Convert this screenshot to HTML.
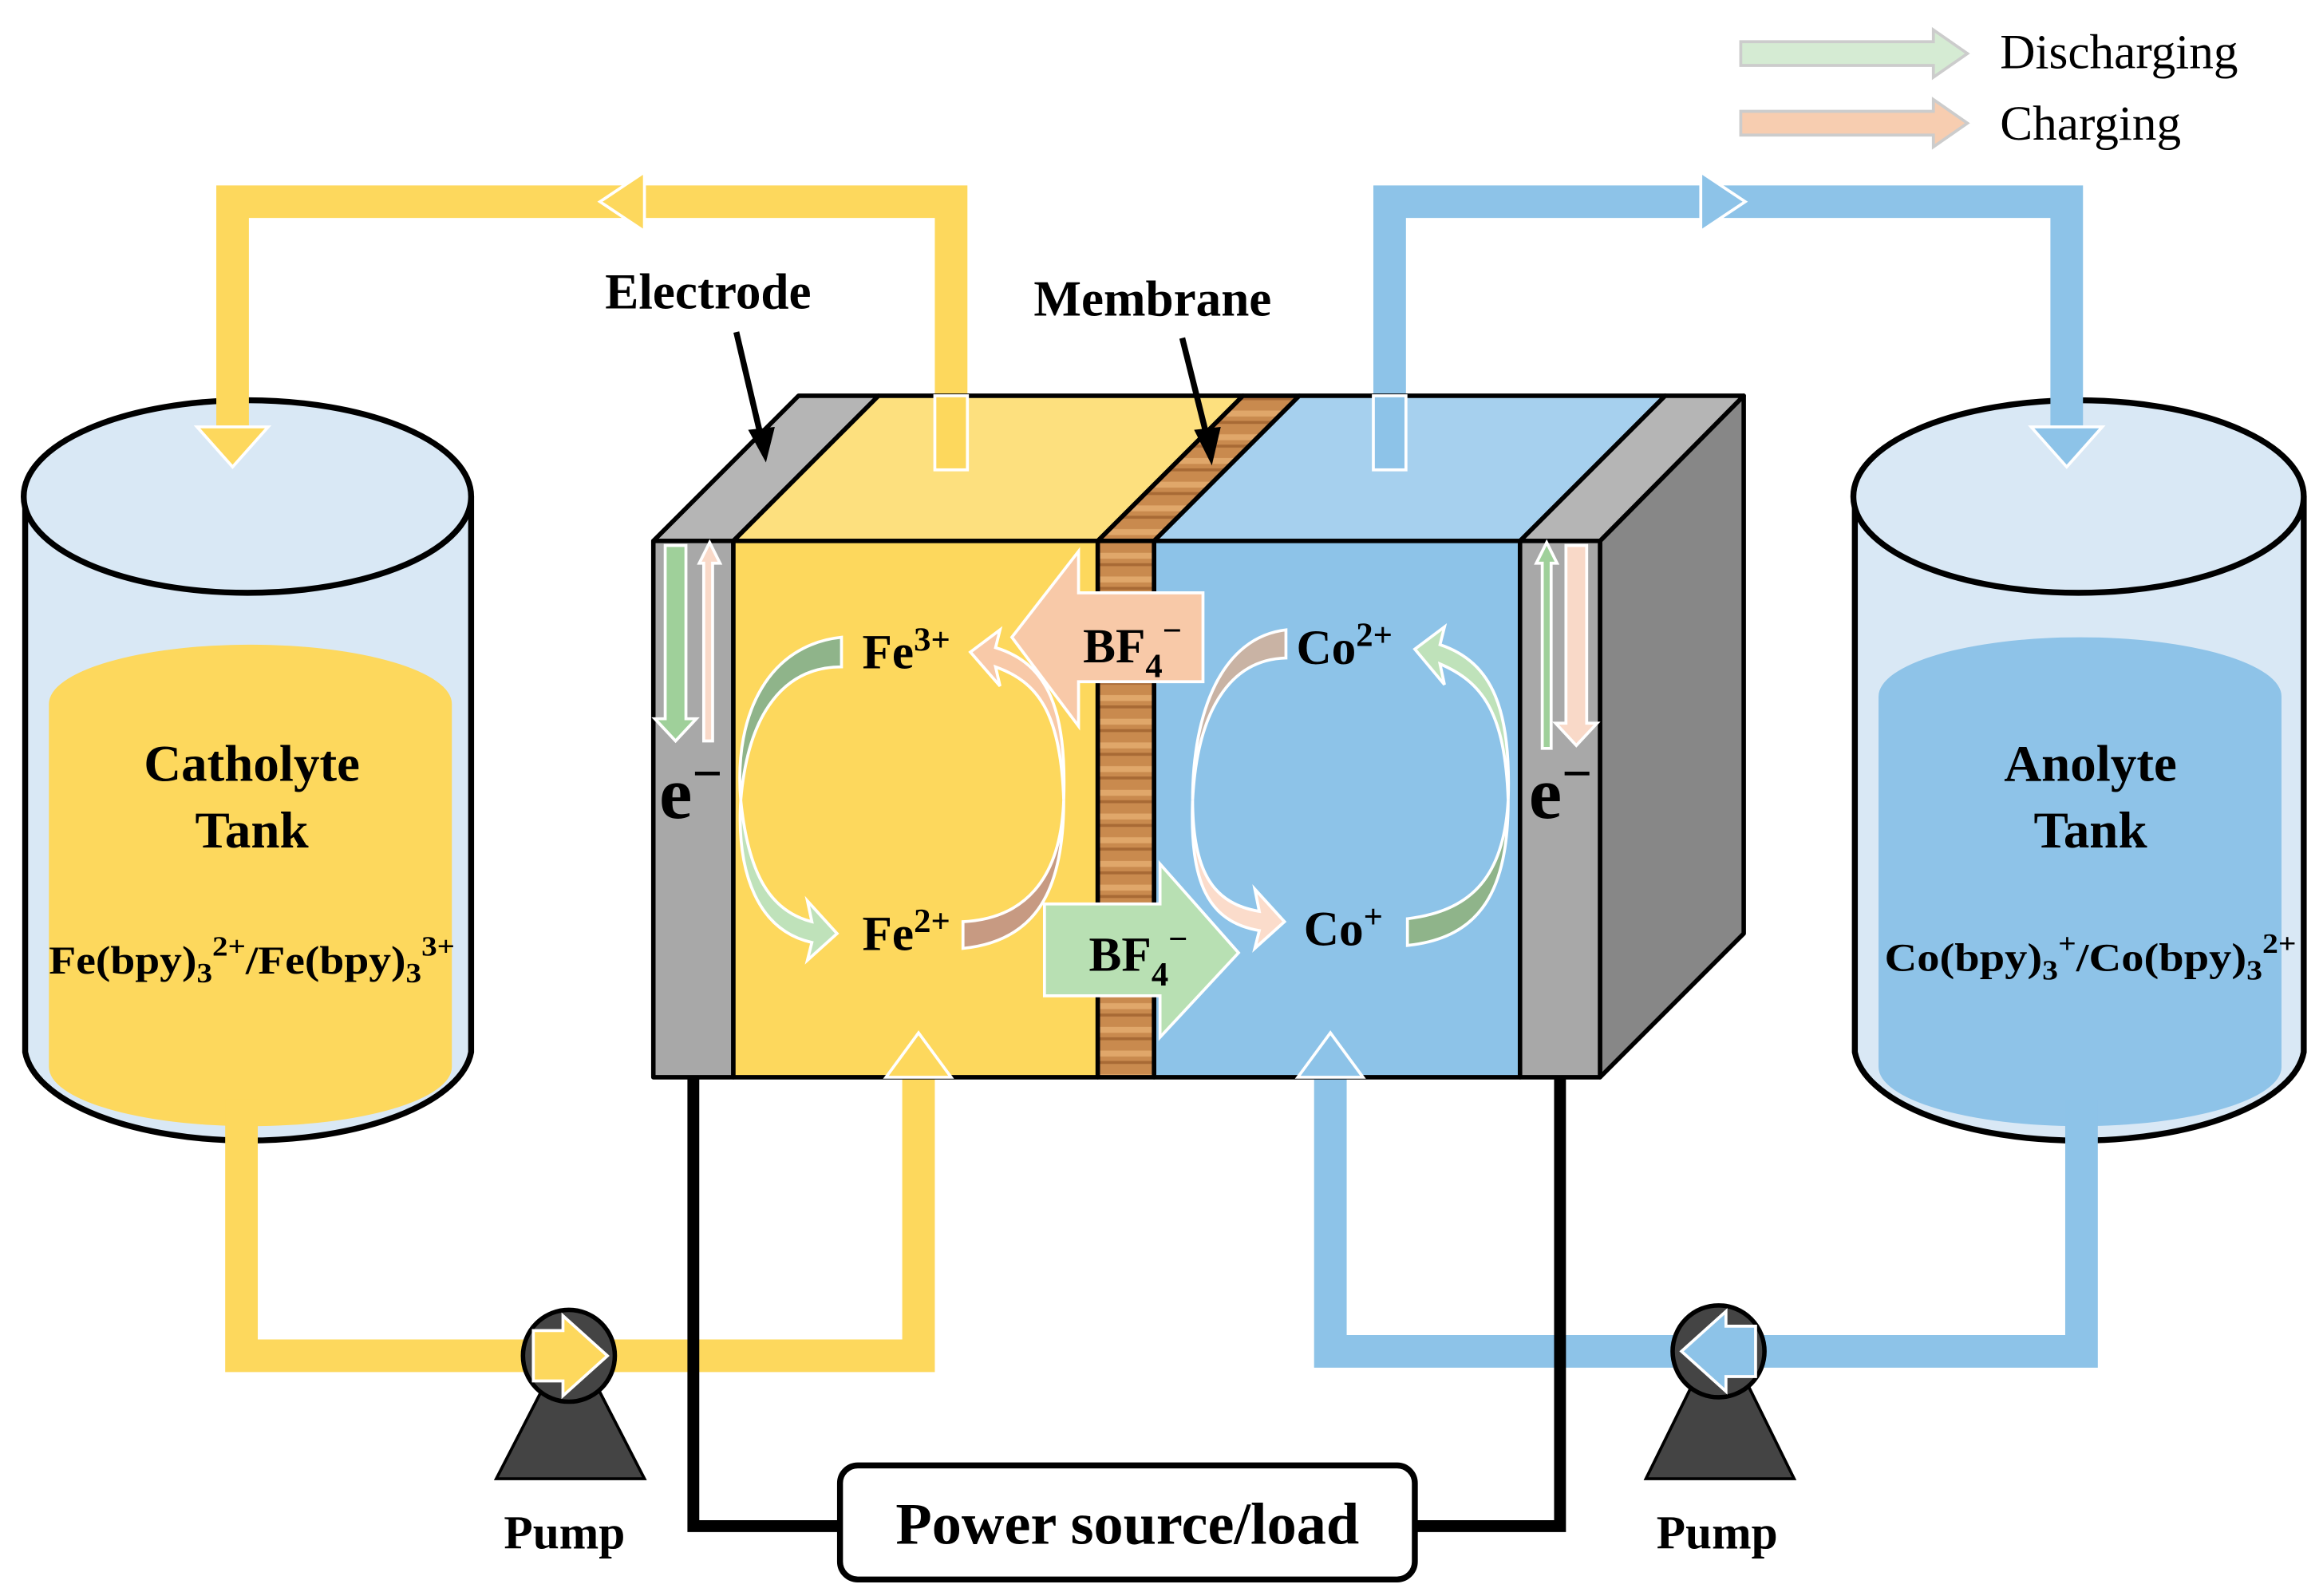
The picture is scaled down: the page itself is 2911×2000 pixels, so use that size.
<!DOCTYPE html>
<html><head><meta charset="utf-8"><style>html,body{margin:0;padding:0;background:#fff}svg{display:block}</style></head>
<body>
<svg width="2911" height="2000" viewBox="0 0 1568 1077" xmlns="http://www.w3.org/2000/svg" font-family="Liberation Serif, serif">
<defs>
<pattern id="wood" width="38" height="16" patternUnits="userSpaceOnUse">
<rect width="38" height="16" fill="#c98a4e"/><rect y="5" width="38" height="4" fill="#e0a76a"/><rect y="12" width="38" height="2" fill="#a86a35"/>
</pattern>
</defs>
<!-- legend -->
<polygon points="1175,28 1305,28 1305,20 1328,36 1305,52 1305,44 1175,44" fill="#d5ebd3" stroke="#ccc" stroke-width="2"/>
<polygon points="1175,75 1305,75 1305,67 1328,83 1305,99 1305,91 1175,91" fill="#f7cdb0" stroke="#ccc" stroke-width="2"/>
<text x="1350" y="46" font-size="33">Discharging</text>
<text x="1350" y="94" font-size="33">Charging</text>

<!-- tanks -->
<g stroke="#000" stroke-width="4">
<path d="M17,335 L17,710 A151,65 0 0 0 318,710 L318,335" fill="#d9e8f5"/>
<ellipse cx="167" cy="335" rx="151" ry="65" fill="#d9e8f5"/>
<path d="M1252,335 L1252,710 A152,65 0 0 0 1555,710 L1555,335" fill="#d9e8f5"/>
<ellipse cx="1403" cy="335" rx="152" ry="65" fill="#d9e8f5"/>
</g>
<path d="M33,475 A136,40 0 0 1 305,475 L305,720 A136,40 0 0 1 33,720 Z" fill="#fdd85d"/>
<path d="M1268,470 A136,40 0 0 1 1540,470 L1540,720 A136,40 0 0 1 1268,720 Z" fill="#8ec3e8"/>
<g font-weight="bold" text-anchor="middle">
<text x="170" y="527" font-size="35">Catholyte</text><text x="170" y="572" font-size="35">Tank</text>
<text x="170" y="657" font-size="27" textLength="274" lengthAdjust="spacingAndGlyphs">Fe(bpy)<tspan font-size="19" dy="6">3</tspan><tspan font-size="19" dy="-18">2+</tspan><tspan dy="12">/Fe(bpy)</tspan><tspan font-size="19" dy="6">3</tspan><tspan font-size="19" dy="-18">3+</tspan></text>
<text x="1411" y="527" font-size="35">Anolyte</text><text x="1411" y="572" font-size="35">Tank</text>
<text x="1411" y="655" font-size="27" textLength="278" lengthAdjust="spacingAndGlyphs">Co(bpy)<tspan font-size="19" dy="6">3</tspan><tspan font-size="19" dy="-18">+</tspan><tspan dy="12">/Co(bpy)</tspan><tspan font-size="19" dy="6">3</tspan><tspan font-size="19" dy="-18">2+</tspan></text>
</g>

<!-- pipes -->
<g fill="none" stroke-width="22" stroke-linejoin="miter">
<polyline points="157,292 157,136 642,136 642,317" stroke="#fdd85d"/>
<polyline points="163,742 163,915 380,915" stroke="#fdd85d"/>
<polyline points="400,915 620,915 620,700" stroke="#fdd85d"/>
<polyline points="938,317 938,136 1395,136 1395,292" stroke="#8dc3e8"/>
<polyline points="1405,742 1405,912 1165,912" stroke="#8dc3e8"/>
<polyline points="1145,912 898,912 898,700" stroke="#8dc3e8"/>
</g>
<g stroke="#fff" stroke-width="2">
<polygon points="133,288 181,288 157,315" fill="#fdd85d"/>
<polygon points="1371,288 1419,288 1395,315" fill="#8dc3e8"/>
<polygon points="435,116 435,156 405,136" fill="#fdd85d"/>
<polygon points="1148,116 1148,156 1178,136" fill="#8dc3e8"/>
</g>

<!-- cell -->
<g stroke="#000" stroke-width="3" stroke-linejoin="round">
<polygon points="1080,365 1177,267 1177,630 1080,727" fill="#878787"/>
<polygon points="441,365 539,267 593,267 495,365" fill="#b5b5b5"/>
<polygon points="495,365 593,267 839,267 741,365" fill="#fde07e"/>
<polygon points="741,365 839,267 877,267 779,365" fill="url(#wood)"/>
<polygon points="779,365 877,267 1124,267 1026,365" fill="#a6d0ee"/>
<polygon points="1026,365 1124,267 1177,267 1080,365" fill="#b5b5b5"/>
<rect x="441" y="365" width="54" height="362" fill="#a8a8a8"/>
<rect x="495" y="365" width="246" height="362" fill="#fdd85d"/>
<rect x="741" y="365" width="38" height="362" fill="url(#wood)"/>
<rect x="779" y="365" width="247" height="362" fill="#8dc3e8"/>
<rect x="1026" y="365" width="54" height="362" fill="#a8a8a8"/>
</g>
<!-- pipe ends over cell -->
<rect x="631" y="267" width="22" height="50" fill="#fdd85d" stroke="#fff" stroke-width="2"/>
<rect x="927" y="267" width="22" height="50" fill="#8dc3e8" stroke="#fff" stroke-width="2"/>
<polygon points="598,727 620,697 642,727" fill="#fdd85d" stroke="#fff" stroke-width="2"/>
<polygon points="876,727 898,697 920,727" fill="#8dc3e8" stroke="#fff" stroke-width="2"/>

<!-- electron arrows -->
<g stroke="#fff" stroke-width="2">
<polygon points="449,368 463,368 463,485 470,485 456,500 442,485 449,485" fill="#9fd09a"/>
<polygon points="472,380 479,366 486,380 481,380 481,500 475,500 475,380" fill="#f9d9c8"/>
<polygon points="1037,380 1044,366 1051,380 1047,380 1047,505 1041,505 1041,380" fill="#9fd09a"/>
<polygon points="1057,368 1071,368 1071,488 1078,488 1064,503 1050,488 1057,488" fill="#f9d9c8"/>
</g>
<text x="445" y="552" font-size="50" font-weight="bold">e<tspan font-size="36" dy="-18">−</tspan></text>
<text x="1032" y="552" font-size="50" font-weight="bold">e<tspan font-size="36" dy="-18">−</tspan></text>

<!-- BF4 arrows -->
<polygon points="812,400 812,460 728,460 728,490 683,430 728,372 728,400" fill="#f8c9a8" stroke="#fff" stroke-width="2"/>
<polygon points="705,610 783,610 783,583 836,643 783,700 783,672 705,672" fill="#b8e0b3" stroke="#fff" stroke-width="2"/>
<g font-weight="bold" font-size="33">
<text x="731" y="447">BF<tspan font-size="23" dy="10">4</tspan><tspan font-size="23" dy="-24">−</tspan></text>
<text x="735" y="655">BF<tspan font-size="23" dy="10">4</tspan><tspan font-size="23" dy="-24">−</tspan></text>
<text x="582" y="451">Fe<tspan font-size="23" dy="-12">3+</tspan></text>
<text x="582" y="641">Fe<tspan font-size="23" dy="-12">2+</tspan></text>
<text x="875" y="448">Co<tspan font-size="23" dy="-12">2+</tspan></text>
<text x="880" y="638">Co<tspan font-size="23" dy="-12">+</tspan></text>
</g>

<!-- curved arrows -->
<g stroke="#fff" stroke-width="2">
<path d="M568,430 C520,435 495,480 500,540 C505,480 530,450 568,450 Z" fill="#8fb48a"/>
<path d="M500,540 C505,590 520,615 548,622 L545,608 L565,630 L545,648 L548,636 C512,628 497,590 500,540 Z" fill="#bfe2ba"/>
<path d="M650,640 C700,635 718,600 718,540 C716,595 690,620 650,622 Z" fill="#c79a82"/>
<path d="M718,540 C716,480 700,460 672,450 L675,463 L655,440 L675,425 L672,437 C708,448 720,480 718,540 Z" fill="#f8c9a8"/>
<path d="M868,425 C825,430 805,480 805,540 C808,480 830,445 868,444 Z" fill="#c9b3a4"/>
<path d="M805,540 C805,590 820,610 850,615 L847,600 L867,622 L847,640 L850,628 C815,622 803,595 805,540 Z" fill="#fbdccb"/>
<path d="M950,638 C1000,633 1018,600 1018,540 C1015,595 990,615 950,620 Z" fill="#8fb48a"/>
<path d="M1018,540 C1016,480 1000,460 972,448 L975,462 L955,438 L975,423 L972,435 C1008,447 1020,480 1018,540 Z" fill="#bfe2ba"/>
</g>

<!-- labels with pointers -->
<text x="478" y="208" font-size="34" font-weight="bold" text-anchor="middle">Electrode</text>
<text x="778" y="213" font-size="34" font-weight="bold" text-anchor="middle">Membrane</text>
<g stroke="#000" stroke-width="4"><line x1="497" y1="224" x2="513" y2="292"/><line x1="798" y1="228" x2="814" y2="292"/></g>
<polygon points="505,290 523,288 517,312" fill="#000"/>
<polygon points="806,290 824,288 818,314" fill="#000"/>

<!-- wires & power -->
<polyline points="468,727 468,1030 567,1030" fill="none" stroke="#000" stroke-width="8"/>
<polyline points="955,1030 1053,1030 1053,727" fill="none" stroke="#000" stroke-width="8"/>
<rect x="567" y="989" width="388" height="77" rx="12" fill="#fff" stroke="#000" stroke-width="4"/>
<text x="761" y="1042" font-size="40" font-weight="bold" text-anchor="middle">Power source/load</text>

<!-- pumps -->
<polygon points="335,998 435,998 400,930 370,930" fill="#444" stroke="#000" stroke-width="2"/>
<circle cx="384" cy="915" r="31" fill="#444" stroke="#000" stroke-width="3"/>
<polygon points="360,898 380,898 380,888 410,915 380,942 380,932 360,932" fill="#fdd85d" stroke="#fff" stroke-width="2"/>
<polygon points="1111,998 1211,998 1176,927 1146,927" fill="#444" stroke="#000" stroke-width="2"/>
<circle cx="1160" cy="912" r="31" fill="#444" stroke="#000" stroke-width="3"/>
<polygon points="1185,895 1165,895 1165,885 1135,912 1165,939 1165,929 1185,929" fill="#8dc3e8" stroke="#fff" stroke-width="2"/>
<text x="381" y="1045" font-size="32" font-weight="bold" text-anchor="middle">Pump</text>
<text x="1159" y="1045" font-size="32" font-weight="bold" text-anchor="middle">Pump</text>
</svg>
</body></html>
